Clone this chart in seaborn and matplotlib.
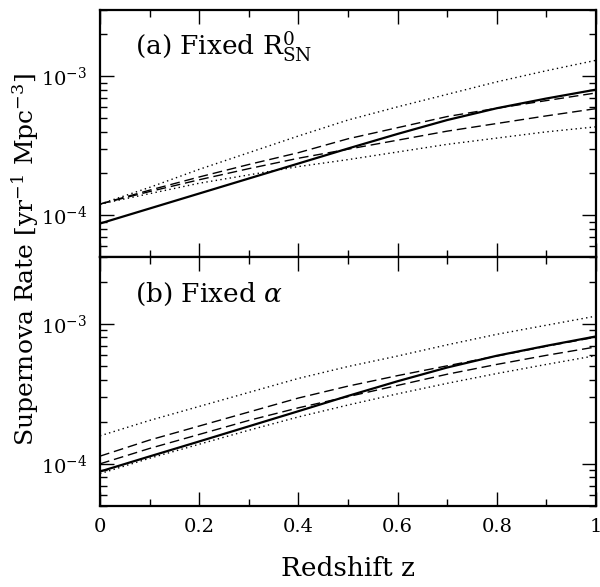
'''two-panel supernova rate vs redshift'''
import numpy as np
import pandas as pd
import seaborn as sns
import matplotlib.pyplot as plt
from matplotlib import ticker

#region data
Z = [0.0, 0.1, 0.2, 0.3, 0.4, 0.5, 0.6, 0.7, 0.8, 0.9, 1.0]

# log10 of rate [yr^-1 Mpc^-3]
A_SOLID = [-4.06, -3.952, -3.844, -3.736, -3.628, -3.52, -3.415, -3.315, -3.23, -3.16, -3.096]
A_DOT_HI = [-3.92, -3.80, -3.67, -3.55, -3.43, -3.315, -3.22, -3.13, -3.04, -2.96, -2.885]
A_DASH_HI = [-3.92, -3.82, -3.725, -3.635, -3.55, -3.45, -3.37, -3.29, -3.23, -3.175, -3.12]
A_DASH_LO = [-3.92, -3.83, -3.745, -3.665, -3.59, -3.525, -3.46, -3.395, -3.34, -3.285, -3.233]
A_DOT_LO = [-3.92, -3.845, -3.77, -3.71, -3.65, -3.60, -3.545, -3.49, -3.445, -3.40, -3.364]

B_SOLID = [-4.055, -3.947, -3.84, -3.732, -3.624, -3.515, -3.41, -3.312, -3.228, -3.157, -3.09]
B_DOT_HI = [-3.80, -3.69, -3.59, -3.49, -3.39, -3.305, -3.23, -3.15, -3.075, -3.01, -2.945]
B_DASH_HI = [-3.945, -3.83, -3.73, -3.63, -3.53, -3.445, -3.37, -3.30, -3.23, -3.16, -3.095]
B_DASH_LO = [-4.0, -3.89, -3.79, -3.69, -3.60, -3.52, -3.44, -3.36, -3.29, -3.225, -3.165]
B_DOT_LO = [-4.07, -3.96, -3.86, -3.76, -3.665, -3.58, -3.50, -3.425, -3.355, -3.29, -3.227]

PANELS = {'a': {'solid': A_SOLID, 'dot_hi': A_DOT_HI, 'dash_hi': A_DASH_HI,
                'dash_lo': A_DASH_LO, 'dot_lo': A_DOT_LO},
          'b': {'solid': B_SOLID, 'dot_hi': B_DOT_HI, 'dash_hi': B_DASH_HI,
                'dash_lo': B_DASH_LO, 'dot_lo': B_DOT_LO}}

TITLES = {'a': r'(a) Fixed R$^{0}_{\rm SN}$', 'b': r'(b) Fixed $\alpha$'}
XTICKS = [0, 0.2, 0.4, 0.6, 0.8, 1]
XTICKLABELS = ['0', '0.2', '0.4', '0.6', '0.8', '1']
#endregion

rows = []
for p, curves in PANELS.items():
    for m, vals in curves.items():
        for z, v in zip(Z, vals):
            rows.append({'panel': p, 'model': m, 'z': z, 'rate': 10 ** v})
df = pd.DataFrame(rows)

sns.set_theme(style='white')
plt.rcParams['font.family'] = ['DejaVu Serif']
plt.rcParams['mathtext.fontset'] = 'dejavuserif'
for k in ('text.color', 'axes.labelcolor', 'xtick.color', 'ytick.color'):
    plt.rcParams[k] = 'black'

DASHES = {'solid': '', 'dot_hi': (1, 2.4), 'dot_lo': (1, 2.4),
          'dash_hi': (7, 3.5), 'dash_lo': (7, 3.5)}
SIZES = {'solid': 1.6, 'dot_hi': 1.0, 'dot_lo': 1.0, 'dash_hi': 1.0, 'dash_lo': 1.0}

fig = plt.figure(figsize=(6.0, 5.87), dpi=100)
left, right = 100 / 600, 596 / 600
axes = [fig.add_axes([left, 1 - 257 / 587, right - left, 247 / 587]),
        fig.add_axes([left, 1 - 506 / 587, right - left, 249 / 587])]

for ax, p in zip(axes, ['a', 'b']):
    sub = df[df['panel'] == p]
    sns.lineplot(data=sub, x='z', y='rate', style='model', size='model',
                 dashes=DASHES, sizes=SIZES, color='black', legend=False, ax=ax)
    ax.set_yscale('log')
    ax.set_xlim(0, 1)
    ax.set_ylim(5e-5, 3e-3)
    ax.set_xlabel('')
    ax.set_ylabel('')
    ax.set_xticks(XTICKS)
    ax.xaxis.set_minor_locator(ticker.MultipleLocator(0.1))
    ax.yaxis.set_major_locator(ticker.LogLocator(base=10, numticks=10))
    ax.yaxis.set_minor_locator(ticker.LogLocator(base=10, subs=np.arange(2, 10), numticks=10))
    ax.yaxis.set_minor_formatter(ticker.NullFormatter())
    ax.tick_params(which='both', direction='in', top=True, right=True,
                   bottom=True, left=True, color='black')
    ax.tick_params(which='major', length=10, width=1.0, labelsize=14, pad=9)
    ax.tick_params(which='minor', length=5, width=1.0)
    for s in ax.spines.values():
        s.set_color('black')
        s.set_linewidth(1.6)
    ax.text(0.07, 0.85, TITLES[p], transform=ax.transAxes, fontsize=19,
            ha='left', va='center')

axes[0].set_xticklabels([])
axes[1].set_xticklabels(XTICKLABELS)

fig.text(0.042, 1 - 260 / 587, r'Supernova Rate [yr$^{-1}$ Mpc$^{-3}$]',
         rotation=90, ha='center', va='center', fontsize=18)
fig.text((left + right) / 2, 1 - 568 / 587, 'Redshift z', ha='center',
         va='center', fontsize=19)

fig.savefig('out.png', dpi=100)
